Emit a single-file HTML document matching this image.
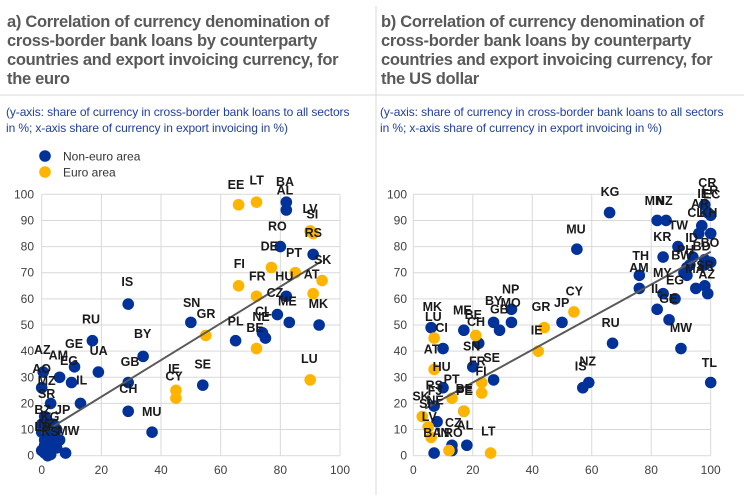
<!DOCTYPE html>
<html><head><meta charset="utf-8"><style>
body{margin:0;background:#fff;width:744px;height:495px;overflow:hidden;font-family:"Liberation Sans",sans-serif;position:relative}
.t{position:absolute;top:13px;font-weight:bold;font-size:16.5px;line-height:19px;color:#595959;width:350px;letter-spacing:-0.3px}
.s{position:absolute;top:104px;font-size:12px;line-height:16px;color:#1f3fa0;width:351px;letter-spacing:-0.1px}
svg{position:absolute;left:0;top:0}
</style></head><body>
<div class="t" style="left:7px">a) Correlation of currency denomination of cross-border bank loans by counterparty countries and export invoicing currency, for the euro</div>
<div class="t" style="left:381px">b) Correlation of currency denomination of cross-border bank loans by counterparty countries and export invoicing currency, for the US dollar</div>
<div class="s" style="left:6px">(y-axis: share of currency in cross-border bank loans to all sectors in %; x-axis share of currency in export invoicing in %)</div>
<div class="s" style="left:380px">(y-axis: share of currency in cross-border bank loans to all sectors in %; x-axis share of currency in export invoicing in %)</div>
<svg id="g" width="744" height="495" xmlns="http://www.w3.org/2000/svg"></svg>
<script>
var NS="http://www.w3.org/2000/svg",g=document.getElementById("g");
function el(t,a,txt){var e=document.createElementNS(NS,t);for(var k in a)e.setAttribute(k,a[k]);if(txt!=null)e.textContent=txt;g.appendChild(e);return e;}
el("line",{x1:376,y1:6,x2:376,y2:495,stroke:"#d9d9d9","stroke-width":1});
el("line",{x1:0,y1:95,x2:744,y2:95,stroke:"#d9d9d9","stroke-width":1});
var B="#003299",Y="#ffb400";
function chart(x0,sx,yl,blue,yel,line,labels){
 var X=function(v){return x0+v*sx},Yf=function(v){return 455.7-v*2.614};
 for(var i=0;i<=10;i++){el("line",{x1:X(0),x2:X(100),y1:Yf(i*10),y2:Yf(i*10),stroke:"#d9d9d9"});
  el("text",{x:yl,y:Yf(i*10)+4,"text-anchor":"end","font-size":12,fill:"#404040"},String(i*10));}
 for(var j=0;j<=5;j++){el("line",{x1:X(j*20),x2:X(j*20),y1:Yf(0),y2:Yf(100),stroke:"#d9d9d9"});
  el("text",{x:X(j*20),y:474,"text-anchor":"middle","font-size":12,fill:"#404040"},String(j*20));}
 blue.forEach(function(p){el("circle",{cx:X(p[0]),cy:Yf(p[1]),r:5.8,fill:B});});
 yel.forEach(function(p){el("circle",{cx:X(p[0]),cy:Yf(p[1]),r:5.8,fill:Y});});
 el("line",{x1:X(line[0]),y1:Yf(line[1]),x2:X(line[2]),y2:Yf(line[3]),stroke:"#595959","stroke-width":2});
 labels.forEach(function(l){el("text",{x:l[1]+l[0]/3,y:140+l[2]/3+4.5,"text-anchor":"middle","font-size":12.5,"font-weight":"bold",fill:"#1a1a1a"},l[3]);});
}
var lb=[[82,97],[82,94],[80,80],[91,77],[82,61],[79,54],[83,51],[93,50],[75,45],[74,47],[65,44],[50,51],[29,58],[17,44],[34,38],[19,32],[29,28],[29,17],[37,9],[11,34],[10,28],[6,30],[0.5,32],[0,26],[13,20],[3,20],[54,27],[8,1],[0,2],[1,1],[2,3],[3,0.5],[1,6],[2,10],[4,5],[5,3],[6,6],[3,8],[0,12],[1,15],[2,13],[4,12],[5,10],[2,0],[1,4],[3,5],[0,9]];
var ly=[[66,96],[72,97],[90,86],[91,85],[77,72],[85,70],[66,65],[72,61],[91,62],[94,67],[72,41],[55,46],[90,29],[45,25],[45,22]];
var L1=[["EE",708,133],["LT",770,120],["BA",855,125],["AL",855,150],["LV",930,205],["SI",937,222],["RO",832,258],["RS",940,278],["DE",808,318],["PT",882,338],["SK",968,358],["FI",718,370],["FR",772,408],["HU",853,408],["AT",935,402],["CZ",825,458],["ME",862,483],["MK",955,490],["SN",575,487],["GR",618,520],["CL",790,513],["NE",783,530],["PL",707,543],["BE",765,562],["IS",382,425],["RU",273,537],["BY",428,580],["GE",222,610],["UA",296,632],["AZ",127,628],["AM",175,645],["EG",207,662],["AO",125,685],["GB",390,665],["LU",928,655],["SE",608,672],["IE",522,685],["CY",522,708],["IL",245,720],["MZ",140,722],["CH",385,745],["SR",140,760],["MU",455,815],["BZ",128,808],["JP",188,808],["KG",150,830],["NZ",140,850],["LB",128,860],["KS",150,875],["MW",205,872]].map(function(a){return [a[1],0,a[2],a[0]];});
chart(41.7,2.983,34,lb,ly,[0,8.5,94,74.5],L1);
var rb=[[66,93],[82,90],[85,90],[98,96],[99,93],[100,92],[97,88],[96,85],[100,85],[89,80],[94,76],[98,75],[100,74],[84,76],[92,72],[91,70],[98,73],[95,64],[98,65],[99,62],[76,69],[76,64],[84,62],[82,56],[86,52],[88,60],[90,41],[100,28],[67,43],[59,28],[57,26],[55,79],[50,51],[33,56],[33,51],[29,48],[27,51],[17,48],[22,43],[20,34],[27,29],[6,49],[10,41],[10,26],[7,19],[8,13],[13,4],[18,4],[7,1],[13,2],[17,17],[92,69],[93,73]];
var ry=[[54,55],[44,49],[42,40],[7,45],[7,33],[13,22],[23,28],[23,24],[17,17],[3,15],[5,11],[6,7],[26,1],[12,2],[21,46]];
var L2=[["KG",705,155],["MN",838,182],["NZ",868,182],["CR",997,128],["LR",1005,150],["IE",985,160],["EC",1010,162],["AR",975,190],["CL",962,218],["KH",1000,218],["TW",910,255],["MU",603,267],["KR",862,290],["ID",950,293],["BD",980,318],["BO",1005,308],["TH",797,347],["PH",932,328],["BW",920,345],["AM",792,382],["MY",862,398],["MA",960,385],["SR",990,375],["AZ",995,402],["EG",900,420],["IL",845,445],["GE",880,475],["NP",407,447],["CY",598,453],["BY",356,482],["MO",407,488],["GB",373,507],["GR",498,500],["JP",560,487],["MK",172,500],["ME",262,510],["BE",295,523],["LU",175,530],["CH",303,545],["RU",707,548],["MW",918,562],["CI",200,563],["IE",485,570],["SN",290,618],["AT",170,627],["NZ",638,663],["IS",617,678],["SE",350,653],["FR",307,663],["TL",1003,668],["HU",200,680],["FI",318,693],["PT",230,717],["RS",178,735],["FJ",180,752],["BE",268,745],["PE",268,752],["SK",138,768],["SI",150,790],["NE",180,780],["LV",163,830],["CZ",235,848],["AL",270,855],["LT",340,873],["BA",172,877],["IN",205,877],["RO",235,877]].map(function(a){return [a[1],375,a[2],a[0]];});
chart(413.3,2.974,407,rb,ry,[4,18,100,78],L2);
el("circle",{cx:45,cy:156,r:5.8,fill:B});
el("text",{x:63,y:160.5,"font-size":12,fill:"#333"},"Non-euro area");
el("circle",{cx:45,cy:172,r:5.8,fill:Y});
el("text",{x:63,y:176.5,"font-size":12,fill:"#333"},"Euro area");
</script>
</body></html>
